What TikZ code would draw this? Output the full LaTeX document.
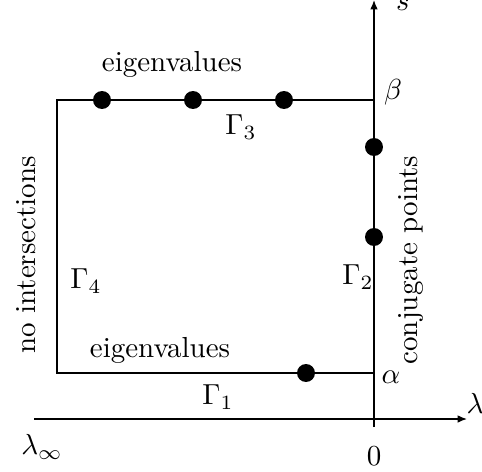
\documentclass[tikz,border=0pt]{standalone}
\usetikzlibrary{arrows.meta}
\begin{document}
\begin{tikzpicture}[x=0.345pt,y=-0.345pt,
  dot/.style={circle,fill=black,inner sep=0pt,minimum size=6.2pt},
  lbl/.style={inner sep=0pt},
  axis/.style={-{Latex[length=3.2pt,width=2.6pt]},line width=0.45pt},
  edge/.style={line width=0.45pt}]
\useasboundingbox (0,0) rectangle (482,471);
% axes
\coordinate (hs) at (34,419);
\coordinate (he) at (467,419);
\coordinate (vs) at (374,427);
\coordinate (ve) at (374,0);
\draw[axis] (hs) -- (he);
\draw[axis] (vs) -- (ve);
% rectangle
\coordinate (tl) at (57,100);
\coordinate (tr) at (374,100);
\coordinate (bl) at (57,373);
\coordinate (br) at (374,373);
\draw[edge] (tr) -- (tl) -- (bl) -- (br);
% dots
\node[dot] (d1) at (102,100) {};
\node[dot] (d2) at (193,100) {};
\node[dot] (d3) at (284,100) {};
\node[dot] (d4) at (374,147) {};
\node[dot] (d5) at (374,237) {};
\node[dot] (d6) at (306,373) {};
% labels
\node[lbl] (s) at (403,4) {$s$};
\node[lbl] (beta) at (393,92) {$\beta$};
\node[lbl] (alpha) at (391,377) {$\alpha$};
\node[lbl] (lam) at (475,403) {$\lambda$};
\node[lbl] (laminf) at (42,447) {$\lambda_\infty$};
\node[lbl] (zero) at (374,456) {$0$};
\node[lbl] (ev1) at (172,64) {eigenvalues};
\node[lbl] (ev2) at (160,350) {eigenvalues};
\node[lbl] (g1) at (218,397) {$\Gamma_1$};
\node[lbl] (g2) at (358,277) {$\Gamma_2$};
\node[lbl] (g3) at (241,127) {$\Gamma_3$};
\node[lbl] (g4) at (86,281) {$\Gamma_4$};
\node[lbl,rotate=90] (noint) at (26,255) {no intersections};
\node[lbl,rotate=90] (conj) at (411,260) {conjugate points};
\end{tikzpicture}
\end{document}
